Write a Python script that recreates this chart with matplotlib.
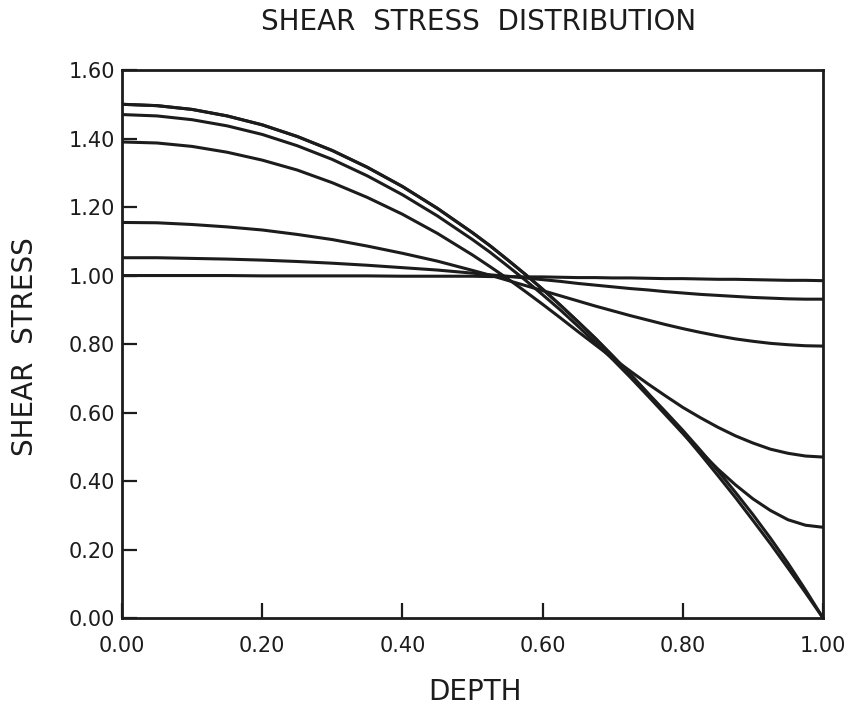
""" Shear stress distribution """
import matplotlib
matplotlib.use('Agg')
import matplotlib.pyplot as plt

# Depth positions (finer steps where the curves bend most)
depth = [0.00, 0.05, 0.10, 0.15, 0.20, 0.25, 0.30, 0.35, 0.40, 0.45, 0.50,
         0.525, 0.55, 0.575, 0.60, 0.625, 0.65, 0.675, 0.70, 0.725, 0.75,
         0.775, 0.80, 0.825, 0.85, 0.875, 0.90, 0.925, 0.95, 0.975, 1.00]

# Shear stress curves, top to bottom at depth 0
tau_a = [1.500, 1.496, 1.485, 1.466, 1.440, 1.406, 1.365, 1.316, 1.260, 1.196, 1.125,
         1.087, 1.046, 1.004, 0.960, 0.914, 0.866, 0.817, 0.765, 0.712, 0.656,
         0.599, 0.540, 0.479, 0.416, 0.352, 0.285, 0.217, 0.146, 0.074, 0.000]
tau_b = [1.500, 1.496, 1.485, 1.466, 1.440, 1.406, 1.365, 1.316, 1.260, 1.196, 1.125,
         1.087, 1.046, 1.004, 0.960, 0.914, 0.866, 0.817, 0.765, 0.712, 0.657,
         0.603, 0.548, 0.490, 0.430, 0.367, 0.302, 0.233, 0.160, 0.082, 0.000]
tau_c = [1.470, 1.466, 1.455, 1.437, 1.412, 1.379, 1.339, 1.291, 1.236, 1.174, 1.105,
         1.068, 1.028, 0.987, 0.944, 0.900, 0.853, 0.805, 0.755, 0.703, 0.649,
         0.594, 0.539, 0.486, 0.435, 0.389, 0.348, 0.314, 0.287, 0.271, 0.265]
tau_d = [1.390, 1.387, 1.377, 1.360, 1.337, 1.308, 1.271, 1.228, 1.179, 1.123, 1.060,
         1.026, 0.991, 0.954, 0.916, 0.877, 0.837, 0.798, 0.759, 0.721, 0.684,
         0.649, 0.615, 0.585, 0.557, 0.532, 0.511, 0.493, 0.481, 0.473, 0.470]
tau_e = [1.155, 1.154, 1.149, 1.142, 1.133, 1.120, 1.105, 1.086, 1.065, 1.042, 1.015,
         1.001, 0.986, 0.971, 0.956, 0.941, 0.926, 0.911, 0.897, 0.883, 0.870,
         0.857, 0.845, 0.834, 0.824, 0.815, 0.808, 0.802, 0.798, 0.795, 0.794]
tau_f = [1.052, 1.052, 1.050, 1.048, 1.045, 1.041, 1.036, 1.030, 1.023, 1.016, 1.007,
         1.002, 0.998, 0.993, 0.988, 0.983, 0.977, 0.972, 0.967, 0.962, 0.958,
         0.953, 0.949, 0.945, 0.942, 0.939, 0.936, 0.934, 0.932, 0.931, 0.931]
tau_g = [1.000, 1.000, 1.000, 1.000, 0.999, 0.999, 0.999, 0.999, 0.998, 0.998, 0.998,
         0.997, 0.997, 0.996, 0.996, 0.995, 0.994, 0.994, 0.993, 0.993, 0.992,
         0.991, 0.991, 0.990, 0.989, 0.989, 0.988, 0.987, 0.986, 0.986, 0.985]

kurver = [tau_a, tau_b, tau_c, tau_d, tau_e, tau_f, tau_g]

x_ticks = [0.0, 0.2, 0.4, 0.6, 0.8, 1.0]
x_labels = ['0.00', '0.20', '0.40', '0.60', '0.80', '1.00']
y_ticks = [0.0, 0.2, 0.4, 0.6, 0.8, 1.0, 1.2, 1.4, 1.6]
y_labels = ['0.00', '0.20', '0.40', '0.60', '0.80', '1.00', '1.20', '1.40', '1.60']

farge = '#1c1c1c'

plt.rcParams['font.family'] = ['DejaVu Sans']
fig = plt.figure(figsize=(8.62, 7.06), dpi=100)
ax = fig.add_axes([0.1415, 0.1246, 0.8133, 0.7762])

for tau in kurver:
    ax.plot(depth, tau, color=farge, linewidth=2.2)

ax.set_xlim(0, 1)
ax.set_ylim(0, 1.6)
ax.set_xticks(x_ticks)
ax.set_xticklabels(x_labels)
ax.set_yticks(y_ticks)
ax.set_yticklabels(y_labels)
ax.tick_params(direction='in', length=11, width=1.6, color=farge,
               labelsize=15, labelcolor=farge)
ax.tick_params(axis='y', pad=5)
ax.tick_params(axis='x', pad=13)
for s in ax.spines.values():
    s.set_linewidth(2.0)
    s.set_color(farge)

# Titles placed in figure coordinates
fig.text(0.555, 0.969, 'SHEAR  STRESS  DISTRIBUTION', ha='center', va='center',
         fontsize=20, color=farge)
fig.text(0.551, 0.020, 'DEPTH', ha='center', va='center', fontsize=20, color=farge)
fig.text(0.029, 0.509, 'SHEAR  STRESS', ha='center', va='center', rotation=90,
         fontsize=20, color=farge)

fig.savefig('out.png', dpi=100)
